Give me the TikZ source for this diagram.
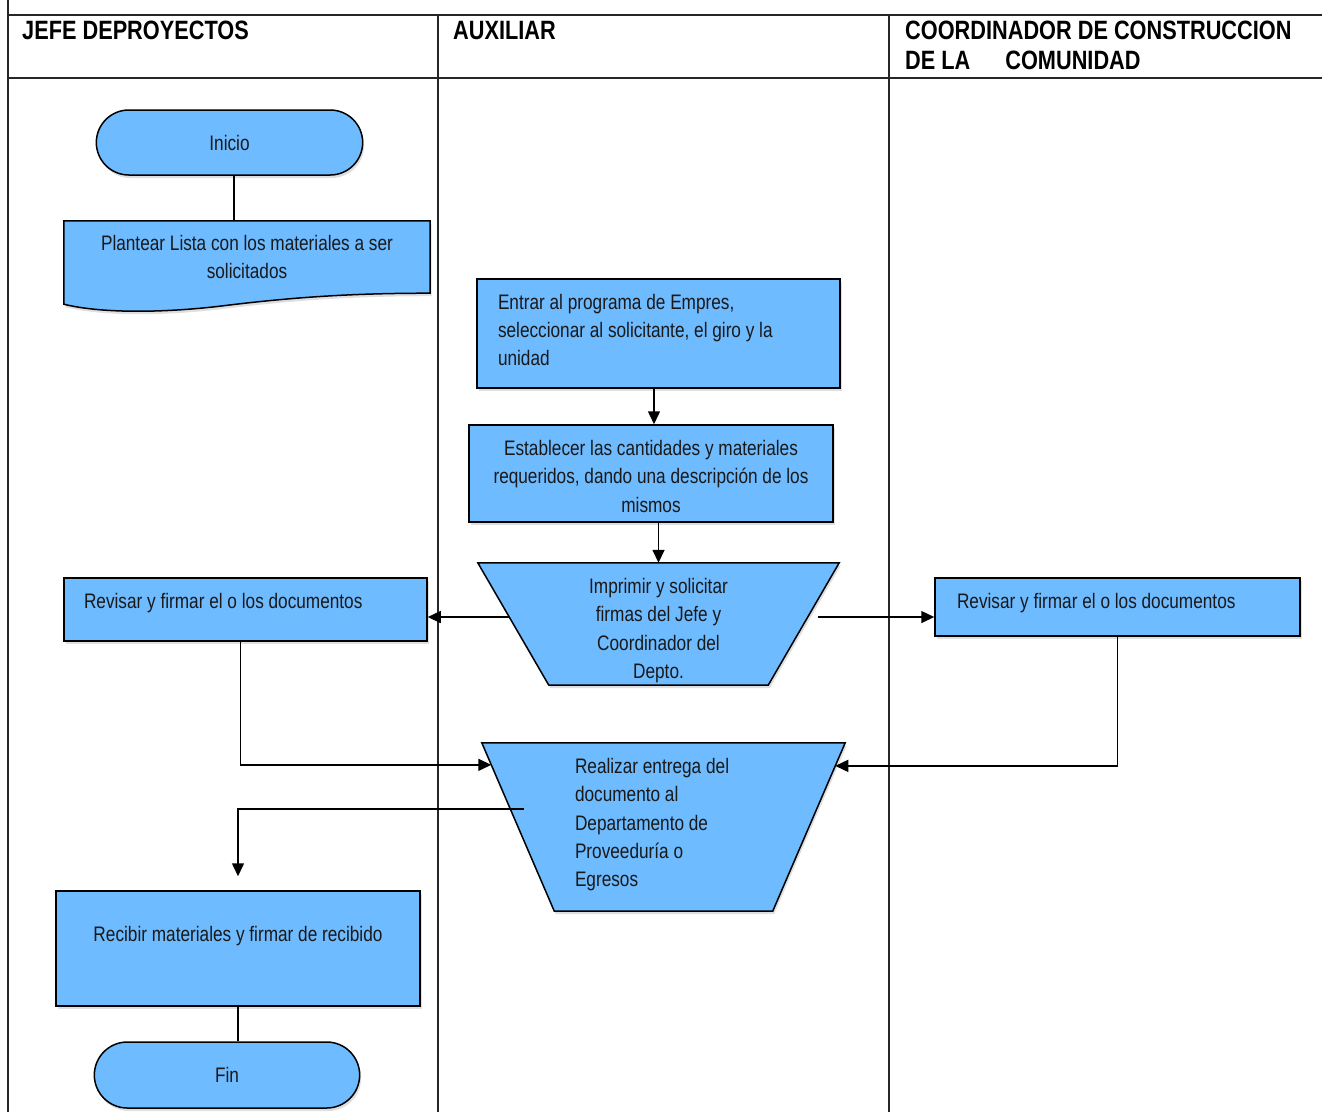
\documentclass[tikz,border=0pt]{standalone}
\usepackage{fontspec}
\setmainfont[FakeStretch=0.82]{Liberation Sans}
\usetikzlibrary{positioning,arrows.meta,shapes.geometric,shapes.misc,shadows,calc,backgrounds}
\definecolor{boxblue}{RGB}{110,187,255}
\tikzset{
  base/.style={draw, line width=1.5pt, fill=boxblue, text=black!90,
    font=\fontsize{21}{28.3}\selectfont,
    drop shadow={shadow xshift=1.5pt, shadow yshift=-3pt, opacity=0.25}},
  term/.style={base, rounded rectangle, minimum width=273pt, minimum height=65pt},
  proc/.style={base, rectangle, inner ysep=0pt},
  leftbox/.style={align=left, execute at begin node={\spaceskip=0pt\xspaceskip=0pt\relax}},
  textonly/.style={font=\fontsize{21}{28.3}\selectfont, text=black!90, inner sep=0pt},
  doctext/.style={textonly, align=center, minimum width=366pt, minimum height=72pt},
  lane/.style={line width=1.2pt, black!85},
  lanehead/.style={font=\fontsize{26.5}{30}\selectfont\bfseries, anchor=north west,
    inner sep=0pt, align=left},
  flow/.style={-{Triangle[length=13pt, width=12pt]}, line width=1.5pt},
  link/.style={line width=1.5pt},
}
\begin{document}
\begin{tikzpicture}[x=1pt, y=-1pt]
  \useasboundingbox (0,0) rectangle (1322,1112);
  % lanes
  \draw[lane] (8,0) -- (8,1112);
  \draw[lane] (8,15) -- (1322,15);
  \draw[lane] (8,78) -- (1322,78);
  \foreach \x in {438,889} \draw[lane] (\x,15) -- (\x,1112);
  \node[lanehead] (hjefe) at (22,21) {JEFE DEPROYECTOS};
  \node[lanehead] (haux) at (453,21) {AUXILIAR};
  \node[lanehead] (hcoord) at (905,21) {COORDINADOR DE CONSTRUCCION\\DE LA\hspace{35pt}COMUNIDAD};
  % nodes
  \node[term] (inicio) at (229.5,142.5) {Inicio};
  \node[doctext] (plantear) at (247,257) {Plantear Lista con los materiales a ser\\solicitados};
  \node[proc, leftbox, minimum width=363pt, minimum height=109pt, text width=321pt,
    inner xsep=21pt, text height=8pt] (entrar) at (658.5,333.5)
    {Entrar al programa de Empres,\\seleccionar al solicitante, el giro y la\\unidad};
  \node[proc, align=center, minimum width=364pt, text height=87.1pt, text depth=9.9pt]
    (establecer) at (651,473.5)
    {Establecer las cantidades y materiales\\requeridos, dando una descripción de los\\mismos};
  \node[textonly, align=center, minimum width=361pt, text height=115.4pt, text depth=6.6pt]
    (imprimir) at (658.5,624)
    {Imprimir y solicitar\\firmas del Jefe y\\Coordinador del\\Depto.};
  \node[proc, leftbox, minimum width=363pt, text width=323pt, inner xsep=20pt,
    text height=30pt, text depth=33pt] (revisarj) at (245.5,609.5)
    {Revisar y firmar el o los documentos};
  \node[proc, leftbox, minimum width=365pt, text width=321pt, inner xsep=22pt,
    text height=30pt, text depth=28pt] (revisarc) at (1117.5,607)
    {Revisar y firmar el o los documentos};
  \node[textonly, leftbox, text width=177pt, inner xsep=93pt,
    text height=30.5pt, text depth=137.5pt] (realizar) at (663.5,827)
    {Realizar entrega del\\documento al\\Departamento de\\Proveeduría o\\Egresos};
  \node[proc, minimum width=364pt, align=center, text height=50.5pt, text depth=64.5pt]
    (recibir) at (238,948.5) {Recibir materiales y firmar de recibido};
  \node[term, minimum width=272pt, minimum height=66pt] (fin) at (227,1075) {Fin};
  % shapes behind the texts
  \coordinate (imp-bl) at ([xshift=71pt]imprimir.south west);
  \coordinate (imp-br) at ([xshift=-71pt]imprimir.south east);
  \coordinate (real-bl) at ([xshift=72.5pt]realizar.south west);
  \coordinate (real-br) at ([xshift=-72.5pt]realizar.south east);
  \begin{scope}[on background layer]
    \draw[base] (plantear.north west) -- (plantear.north east) -- (plantear.south east)
      .. controls +(-70,0) and +(80,-10) .. ($(plantear.south west)+(156,13)$)
      .. controls +(-60,7) and +(36,9) .. ($(plantear.south west)+(0,11)$) -- cycle;
    \draw[base] (imprimir.north west) -- (imprimir.north east) -- (imp-br) -- (imp-bl) -- cycle;
    \draw[base] (realizar.north west) -- (realizar.north east) -- (real-br) -- (real-bl) -- cycle;
  \end{scope}
  % connectors
  \coordinate (imp-l) at ($(imprimir.north west)!0.443!(imp-bl)$);
  \coordinate (imp-r) at ($(imprimir.north east)!0.443!(imp-br)+(10,0)$);
  \coordinate (real-l) at ($(realizar.north west)!0.131!(real-bl)$);
  \coordinate (real-r) at ($(realizar.north east)!0.137!(real-br)$);
  \coordinate (real-out) at ([xshift=-140pt,yshift=18pt]realizar.center);
  \draw[link] ([xshift=4.5pt]inicio.south) -- ([xshift=4.5pt]inicio.south |- plantear.north);
  \draw[flow] ([xshift=-4.5pt]entrar.south) -- ([xshift=-4.5pt]entrar.south |- establecer.north);
  \draw[flow] (imprimir.north |- establecer.south) -- (imprimir.north);
  \draw[flow] (imp-l) -- (imp-l -| revisarj.east);
  \draw[flow] (imp-r) -- (imp-r -| revisarc.west);
  \draw[flow] ([xshift=-5pt]revisarj.south) |- (real-l);
  \draw[flow] (revisarc.south) |- (real-r);
  \draw[flow, shorten >=14pt] (real-out) -| (recibir.north);
  \draw[link] (recibir.south) -- (recibir.south |- fin.north);
\end{tikzpicture}
\end{document}
